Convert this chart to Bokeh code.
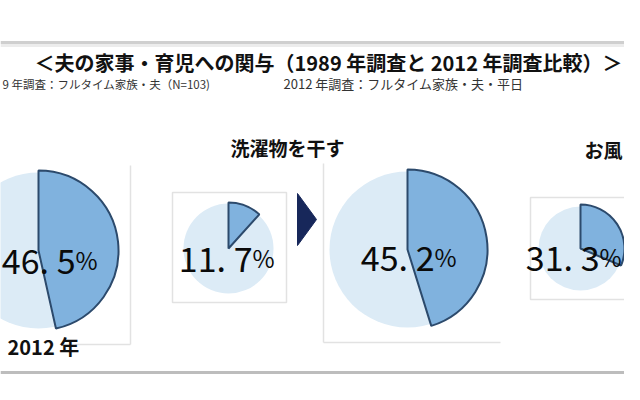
import math
from bokeh.plotting import figure
from bokeh.models import Range1d
from bokeh.core.properties import value
from bokeh.embed import file_html
from bokeh.resources import INLINE

# ---- data ----
title = "＜夫の家事・育児への関与（1989 年調査と 2012 年調査比較）＞"
subtitle_1989 = "9 年調査：フルタイム家族・夫（N=103)"
subtitle_2012 = "2012 年調査：フルタイム家族・夫・平日"
tasks = ["洗濯物を干す", "お風"]
pie_years = ["2012", "1989", "2012", "1989"]
pie_values = [46.5, 11.7, 45.2, 31.3]
year_label = "2012 年"

# ---- layout (reference pixel coordinates) ----
W, H = 624, 384
FONT = value("Noto Sans CJK JP")
def Y(v):
    return 400 - v

pie_cx = [38, 228, 407, 580]
pie_cy = [250, 248, 249, 248]
pie_r = [78, 45, 78, 42]
wedge_r = [80, 46, 80, 44]
lab_dx = [37, 24, 27, 19]
lab_base = [259, 257, 256, 256]

LIGHT = "#dcebf6"
BLUE = "#80b2de"
EDGE = "#2c4a6c"
BOX = "#e2e2e2"

p = figure(width=W, height=H, x_range=Range1d(0, 624), y_range=Range1d(16, 400),
           output_backend="svg", toolbar_location=None, min_border=0)
p.axis.visible = False
p.grid.visible = False
p.outline_line_color = None
p.background_fill_color = "white"
p.border_fill_color = "white"

# rules
p.segment(x0=[0], y0=[Y(42)], x1=[640], y1=[Y(42)], line_color="#cfcfcf", line_width=3)
p.segment(x0=[0], y0=[Y(45)], x1=[640], y1=[Y(45)], line_color="#ececec", line_width=3)
p.segment(x0=[0], y0=[Y(372)], x1=[640], y1=[Y(372)], line_color="#bdbdbd", line_width=3)

# boxes
p.segment(x0=[130, 75], y0=[Y(165), Y(344)], x1=[130, 130], y1=[Y(344), Y(344)],
          line_color=BOX, line_width=1.5)
p.segment(x0=[323, 323], y0=[Y(163), Y(342)], x1=[323, 500], y1=[Y(342), Y(342)],
          line_color=BOX, line_width=1.5)
for (x0, y0, x1, y1) in [(172, 192, 286, 302), (530, 197, 632, 299)]:
    p.quad(left=x0, right=x1, top=Y(y0), bottom=Y(y1), fill_color=None,
           line_color=BOX, line_width=1.5)

# pies
for i, v in enumerate(pie_values):
    p.circle(x=pie_cx[i], y=Y(pie_cy[i]), radius=pie_r[i], fill_color=LIGHT, line_color=None)
    p.wedge(x=pie_cx[i], y=Y(pie_cy[i]), radius=wedge_r[i],
            start_angle=math.pi / 2, end_angle=math.pi / 2 - 2 * math.pi * v / 100,
            direction="clock", fill_color=BLUE, line_color=EDGE, line_width=2)
    num = f"{v:.1f}".replace(".", ". ")
    p.text(x=[pie_cx[i] + lab_dx[i]], y=[Y(lab_base[i])], text=[num],
           text_font=FONT, text_font_size="34px", text_color="#0a0a0a",
           text_align="right", text_baseline="alphabetic")
    p.text(x=[pie_cx[i] + lab_dx[i]], y=[Y(lab_base[i])], text=["%"],
           text_font=FONT, text_font_size="24px", text_color="#0a0a0a",
           text_align="left", text_baseline="alphabetic")

# arrow
p.patch(x=[297, 297, 316], y=[Y(193), Y(245), Y(219)], fill_color="#17275a", line_color="#17275a")

# texts
p.text(x=[328], y=[Y(62)], text=[title], text_font=FONT, text_font_size="20px",
       text_font_style="bold", text_color="#111111", text_align="center", text_baseline="middle")
p.text(x=[2], y=[Y(83)], text=[subtitle_1989], text_font=FONT, text_font_size="11.5px",
       text_color="#333333", text_align="left", text_baseline="middle")
p.text(x=[283], y=[Y(83)], text=[subtitle_2012], text_font=FONT, text_font_size="13px",
       text_color="#333333", text_align="left", text_baseline="middle")
p.text(x=[287], y=[Y(147)], text=[tasks[0]], text_font=FONT, text_font_size="19px",
       text_font_style="bold", text_color="#111111", text_align="center",
       text_baseline="middle")
p.text(x=[622], y=[Y(149)], text=[tasks[1]], text_font=FONT, text_font_size="19px",
       text_font_style="bold", text_color="#111111", text_align="right",
       text_baseline="middle")
p.text(x=[7], y=[Y(346)], text=[year_label], text_font=FONT, text_font_size="20px",
       text_font_style="bold", text_color="#111111", text_align="left", text_baseline="middle")

open("out.html", "w").write(file_html(p, INLINE))
